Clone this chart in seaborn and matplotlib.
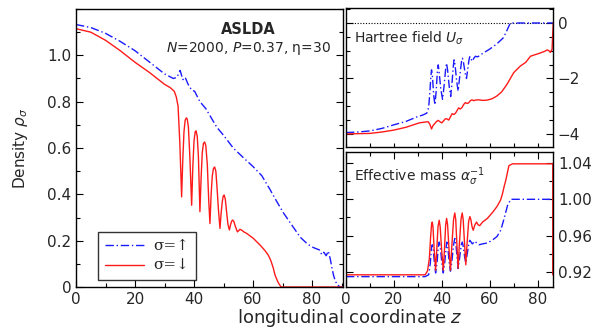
import numpy as np
import pandas as pd
import matplotlib
matplotlib.use("Agg")
import matplotlib.pyplot as plt
from matplotlib.ticker import MultipleLocator
import seaborn as sns

# ---------------- data ----------------
# Left panel: density
z_up = [0, 5, 10, 15, 20, 25, 30, 33, 34.2, 35.3, 36.2, 37.0, 38.0, 39.2, 40.2, 42.0, 44.0, 47.7,
        50.0, 53.3, 57.0, 60.0, 63.0, 65.8, 68.0, 70.3, 73.0, 76.0, 78.5, 80.5, 82.5, 83.3, 84.0,
        84.8, 85.5, 86.2, 86.7, 87.3, 87.8, 88.5, 89.5, 90.5]
rho_up = [1.133, 1.12, 1.095, 1.06, 1.02, 0.97, 0.92, 0.90, 0.905, 0.935, 0.895, 0.905, 0.875, 0.85,
          0.845, 0.80, 0.77, 0.69, 0.655, 0.60, 0.555, 0.52, 0.48, 0.42, 0.37, 0.32, 0.27, 0.215,
          0.185, 0.17, 0.16, 0.14, 0.15, 0.135, 0.155, 0.12, 0.086, 0.05, 0.03, 0.01, 0.0, 0.0]

z_dn = [0, 5, 10, 15, 20, 25, 30, 32, 33.3, 34.0, 34.6, 35.2, 35.8,
        36.2, 36.6, 37.0, 37.4, 37.7, 38.1, 38.6, 39.2,
        39.6, 40.0, 40.4, 40.7, 41.1, 41.5, 42.0,
        42.4, 42.8, 43.2, 43.6, 44.0, 44.5, 45.0, 45.4,
        45.8, 46.2, 46.6, 47.0, 47.4, 47.8, 48.3, 48.8,
        49.2, 49.6, 49.9, 50.2, 50.6, 51.0, 51.5, 52.0,
        52.4, 52.8, 53.1, 53.5, 54.0, 54.7,
        55.1, 55.6, 56.2, 57.0, 57.9, 60.1, 62.4, 64.0, 65.2, 66.0, 66.8, 67.5, 68.5, 69.5,
        75, 80, 85, 90.5]
rho_dn = [1.115, 1.10, 1.065, 1.02, 0.97, 0.925, 0.875, 0.86, 0.845, 0.82, 0.78, 0.62, 0.389,
          0.55, 0.67, 0.72, 0.73, 0.725, 0.69, 0.56, 0.353,
          0.52, 0.63, 0.67, 0.674, 0.65, 0.56, 0.325,
          0.47, 0.58, 0.62, 0.626, 0.61, 0.53, 0.37, 0.274,
          0.40, 0.48, 0.512, 0.518, 0.50, 0.43, 0.33, 0.253,
          0.32, 0.37, 0.392, 0.397, 0.38, 0.33, 0.27, 0.246,
          0.27, 0.285, 0.289, 0.283, 0.262, 0.238,
          0.243, 0.249, 0.245, 0.237, 0.231, 0.21, 0.181, 0.158, 0.137, 0.115, 0.085, 0.05,
          0.02, 0.0, 0.0, 0.0, 0.0, 0.0]

# Top-right panel: Hartree field U
zU_up = [0, 5, 10, 15, 20, 25, 30, 32, 33.7, 34.5, 35.0, 35.4, 35.7, 36.1, 36.6, 37.1,
         37.6, 38.1, 38.5, 38.9, 39.6, 40.3, 40.9, 41.6, 42.0, 42.4, 43.1, 43.7,
         44.3, 44.8, 45.1, 45.5, 46.2, 46.8, 47.5, 48.2, 48.6, 49.0, 49.7, 50.3,
         50.9, 51.4, 51.7, 52.2, 52.7, 53.3, 54.0, 55.0, 57.0, 60.0, 63.0, 65.6, 67.0, 68.6,
         75, 80, 86.5]
U_up = [-3.95, -3.93, -3.89, -3.80, -3.67, -3.55, -3.37, -3.32, -3.25, -3.05, -2.5, -1.95, -1.69,
        -1.95, -2.6, -2.95,
        -2.5, -1.8, -1.51, -1.8, -2.4, -2.75, -2.3, -1.65, -1.45, -1.7, -2.3, -2.65,
        -2.1, -1.55, -1.33, -1.5, -2.1, -2.45, -1.9, -1.4, -1.27, -1.4, -1.8, -2.0,
        -1.6, -1.3, -1.21, -1.3, -1.38, -1.28, -1.2, -1.22, -1.10, -0.94,
        -0.75, -0.54, -0.30, 0.0, 0.0, 0.0, 0.0]

zU_dn = [0, 5, 10, 15, 20, 25, 30.6, 33.0, 34.3, 35.0, 35.7, 36.3, 37.0, 37.8, 38.5, 39.2, 40.0,
         40.8, 41.5, 42.2, 42.9, 43.6, 44.3, 45.0, 45.7, 46.4, 47.0, 47.7, 48.4, 49.1, 49.8,
         50.5, 51.2, 51.9, 52.6, 53.3, 54.0, 55.4, 57.0, 58.9, 61.0, 63.0, 65.0, 67.2, 70.0,
         72.8, 75.0, 77.0, 79.0, 80.5, 82.0, 83.0, 84.0, 84.7, 85.3, 86.0, 86.5]
U_dn = [-4.0, -3.99, -3.98, -3.93, -3.86, -3.76, -3.60, -3.57, -3.56, -3.65, -3.82, -3.70, -3.63,
        -3.55, -3.51, -3.56, -3.60, -3.52, -3.45, -3.46, -3.50, -3.38, -3.27, -3.30, -3.25,
        -3.15, -3.06, -3.10, -3.05, -2.94, -2.87, -2.90, -2.88, -2.80, -2.77, -2.80, -2.78,
        -2.77, -2.79, -2.78, -2.73, -2.63, -2.48, -2.21, -1.79,
        -1.55, -1.42, -1.20, -1.14, -1.10, -1.05, -1.02, -0.97, -1.00, -1.06, -0.95, 0.0]

# Bottom-right panel: effective mass alpha^-1
zA_up = [0, 10, 20, 30, 33.0, 34.5, 35.2, 35.6, 36.0, 36.4, 36.9, 37.4, 38.0, 38.5, 38.9, 39.4,
         40.0, 40.6, 41.2, 41.8, 42.1, 42.5, 43.1, 43.6, 44.2, 44.9, 45.4, 45.9, 46.4, 46.8,
         47.4, 48.1, 48.5, 48.9, 49.5, 50.0, 50.6, 51.3, 51.7, 52.2, 52.7, 53.1, 53.8,
         54.5, 55.5, 57.0, 59.0, 61.0, 63.0, 64.6, 66.0, 67.4, 68.8, 75, 80, 86.5]
A_up = [0.915, 0.915, 0.915, 0.915, 0.915, 0.917, 0.93, 0.945, 0.950, 0.945, 0.93, 0.919,
        0.93, 0.947, 0.953, 0.947, 0.93, 0.919, 0.93, 0.947, 0.953, 0.947, 0.93, 0.921,
        0.932, 0.95, 0.957, 0.95, 0.935, 0.924, 0.935, 0.95, 0.953, 0.949, 0.937, 0.930,
        0.94, 0.952, 0.955, 0.953, 0.951, 0.952, 0.954, 0.952, 0.950, 0.951, 0.952, 0.955,
        0.959, 0.966, 0.979, 0.993, 1.0, 1.0, 1.0, 1.0]

zA_dn = [0, 10, 20, 30, 33.0, 34.0, 34.8, 35.3, 35.7, 36.0, 36.3, 36.8, 37.4,
         37.9, 38.4, 38.9, 39.3, 39.9, 40.6,
         41.1, 41.6, 42.0, 42.4, 43.0, 43.6,
         44.2, 44.9, 45.4, 45.8, 46.3, 46.8,
         47.3, 48.0, 48.5, 48.9, 49.4, 50.0,
         50.5, 51.2, 51.7, 52.1, 52.6, 53.1, 53.8, 54.5, 55.1, 55.8, 57.0, 59.0, 61.3,
         63.0, 64.5, 65.3, 66.0, 66.7, 68.0, 69.5, 75, 80, 86.3, 86.3]
A_dn = [0.917, 0.917, 0.917, 0.917, 0.917, 0.921, 0.935, 0.958, 0.972, 0.975, 0.97, 0.945, 0.922,
        0.945, 0.97, 0.977, 0.97, 0.945, 0.922,
        0.945, 0.972, 0.979, 0.972, 0.945, 0.922,
        0.95, 0.978, 0.985, 0.978, 0.95, 0.924,
        0.95, 0.978, 0.985, 0.978, 0.955, 0.928,
        0.95, 0.976, 0.981, 0.978, 0.97, 0.966, 0.972, 0.975, 0.972, 0.971, 0.975, 0.979, 0.986,
        0.992, 0.999, 1.006, 1.014, 1.021, 1.037, 1.039, 1.039, 1.039, 1.039, 0.917]

legend_labels = ["σ=↑", "σ=↓"]
left_xticks = [0, 20, 40, 60, 80]
left_yticks = [0, 0.2, 0.4, 0.6, 0.8, 1.0]
left_yticklabels = ["0", "0.2", "0.4", "0.6", "0.8", "1.0"]
top_yticks = [0, -2, -4]
bot_yticks = [0.92, 0.96, 1.00, 1.04]
bot_yticklabels = ["0.92", "0.96", "1.00", "1.04"]

# ---------------- figure ----------------
sns.set_theme(style="ticks")
plt.rcParams["font.family"] = ["DejaVu Sans"]
plt.rcParams["mathtext.fontset"] = "dejavusans"

W, H = 597, 331
fig = plt.figure(figsize=(W / 100, H / 100), dpi=100)

def ax_at(l, t, r, b):
    return fig.add_axes([l / W, 1 - b / H, (r - l) / W, (b - t) / H])

axL = ax_at(76, 9, 343, 287)
axT = ax_at(346, 8, 553, 147)
axB = ax_at(346, 152, 553, 287)

blue = "#1a1aff"
red = "#ff1a1a"
dashdot = (0, (6, 2, 1, 2))

def line(ax, x, y, color, ls, lw=1.0, label=None):
    df = pd.DataFrame({"x": x, "y": y})
    sns.lineplot(data=df, x="x", y="y", ax=ax, color=color, linestyle=ls, linewidth=lw,
                 estimator=None, sort=False, label=label, legend=False)

# left panel
line(axL, z_up, rho_up, blue, dashdot, label=legend_labels[0])
line(axL, z_dn, rho_dn, red, "-", label=legend_labels[1])
axL.set_xlim(0, 90.5)
axL.set_ylim(0, 1.2)
axL.set_xticks(left_xticks)
axL.set_yticks(left_yticks)
axL.set_yticklabels(left_yticklabels)
axL.xaxis.set_minor_locator(MultipleLocator(10))
axL.yaxis.set_minor_locator(MultipleLocator(0.1))
axL.set_xlabel("")
axL.set_ylabel(r"Density $\rho_\sigma$", fontsize=11, labelpad=12)
axL.text(0.645, 0.925, "ASLDA", transform=axL.transAxes, ha="center", va="center",
         fontsize=10.5, fontweight="bold")
axL.text(0.645, 0.857, r"$\it{N}$=2000, $\it{P}$=0.37, η=30", transform=axL.transAxes,
         ha="center", va="center", fontsize=10)
leg = axL.legend(loc="lower left", bbox_to_anchor=(0.082, 0.025), borderaxespad=0,
                 frameon=True, fancybox=False, edgecolor="black", handlelength=2.6,
                 borderpad=0.45, labelspacing=0.4, handletextpad=0.6,
                 prop={"family": ["DejaVu Serif"], "size": 11})
leg.get_frame().set_linewidth(1.0)

# top right
axT.axhline(0, color="black", linestyle=(0, (1, 1.5)), linewidth=0.8)
line(axT, zU_up, U_up, blue, dashdot)
line(axT, zU_dn, U_dn, red, "-")
axT.set_xlim(0, 86.4)
axT.set_ylim(-4.47, 0.54)
axT.set_yticks(top_yticks)
axT.yaxis.set_minor_locator(MultipleLocator(0.5))
axT.set_xticks([])
axT.xaxis.set_minor_locator(MultipleLocator(10))
axT.set_xlabel("")
axT.set_ylabel("")
axT.text(0.04, 0.78, r"Hartree field $U_\sigma$", transform=axT.transAxes, ha="left",
         va="center", fontsize=10)

# bottom right
line(axB, zA_up, A_up, blue, dashdot)
line(axB, zA_dn, A_dn, red, "-")
axB.set_xlim(0, 86.4)
axB.set_ylim(0.9036, 1.052)
axB.set_xticks(left_xticks)
axB.set_yticks(bot_yticks)
axB.set_yticklabels(bot_yticklabels)
axB.xaxis.set_minor_locator(MultipleLocator(10))
axB.yaxis.set_minor_locator(MultipleLocator(0.02))
axB.set_xlabel("")
axB.set_ylabel("")
axB.text(0.04, 0.82, r"Effective mass $\alpha_\sigma^{-1}$", transform=axB.transAxes,
         ha="left", va="center", fontsize=10)

for ax in (axL, axT, axB):
    for s in ax.spines.values():
        s.set_linewidth(1.0)
        s.set_color("black")
    ax.tick_params(which="both", direction="in", top=True, right=True, labelsize=11,
                   width=0.8, color="black")
    ax.tick_params(which="major", length=5)
    ax.tick_params(which="minor", length=3)
axL.tick_params(top=False, which="both")
axT.tick_params(axis="y", labelleft=False, labelright=True)
axB.tick_params(axis="y", labelleft=False, labelright=True)
axT.tick_params(axis="x", top=False, bottom=True, which="both", labelbottom=False)

fig.text(350 / W, 1 - 318 / H, r"longitudinal coordinate $\it{z}$", ha="center", va="center",
         fontsize=13)

fig.savefig("out.png", dpi=100)
